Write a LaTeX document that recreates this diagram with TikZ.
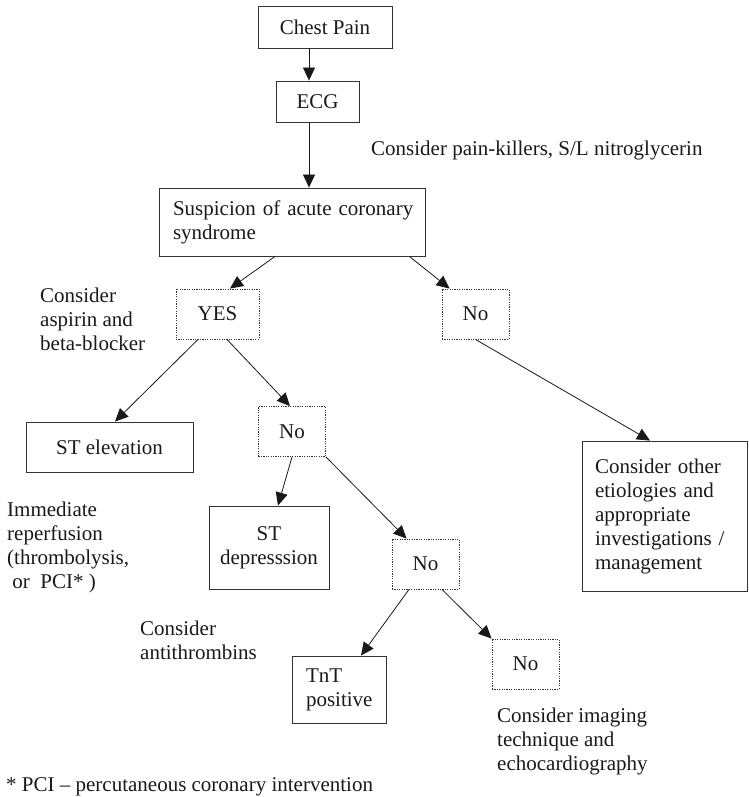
\documentclass[tikz,border=0pt]{standalone}
\usepackage{fontspec}
\setmainfont{Liberation Serif}
\usetikzlibrary{arrows.meta}

\begin{document}
\begin{tikzpicture}[x=1pt, y=-1pt,
	every node/.style={font=\fontsize{21}{24}\selectfont, text=black!90},
	solidbox/.style={draw=black!80, line width=0.9pt, inner sep=0pt},
	dotbox/.style={draw=black!80, line width=0.9pt, dash pattern=on 1.2pt off 1.2pt, inner sep=0pt, minimum width=67pt, minimum height=50pt},
	note/.style={inner sep=0pt, align=left, anchor=west},
	arr/.style={-{Triangle[length=13pt,width=12pt]}, line width=0.8pt, black!90}]
	\useasboundingbox (0,0) rectangle (748,797);
	\node (CP) [solidbox, minimum width=134pt, minimum height=42pt] at (325,27) {Chest Pain};
	\node (ECG) [solidbox, minimum width=83pt, minimum height=41pt] at (317.5,101.5) {ECG};
	\node (ACS) [solidbox, minimum width=266pt, minimum height=68pt, text width=238pt, align=left] at (292,222) {\mbox{Suspicion of acute coronary}\\syndrome};
	\node (YES) [dotbox, minimum width=83pt] at (217.5,314) {YES};
	\node (NoA) [dotbox] at (475.5,314) {No};
	\node (STE) [solidbox, minimum width=167pt, minimum height=50pt] at (109.5,447) {ST elevation};
	\node (NoB) [dotbox] at (292,431.5) {No};
	\node (STD) [solidbox, minimum width=120pt, minimum height=83pt, align=center] at (269,547.5) {ST\\depresssion};
	\node (NoC) [dotbox] at (425.5,564) {No};
	\node (TnT) [solidbox, minimum width=94pt, minimum height=67pt, text width=66pt, align=left] at (339,689.5) {TnT\\positive};
	\node (NoD) [dotbox] at (525.5,664) {No};
	\node (OTH) [solidbox, minimum width=165pt, minimum height=150pt, text width=139pt, align=left] at (664.5,516) {Consider other\\etiologies and\\appropriate\\investigations /\\management};
	\node (painTxt) [note] at (371,150) {Consider pain-killers, S/L nitroglycerin};
	\node (aspTxt) [note] at (40,319) {Consider\\aspirin and\\beta-blocker};
	\node (repTxt) [note] at (7,547.5) {Immediate\\reperfusion\\(thrombolysis,\\\ or\ \ PCI* )};
	\node (antiTxt) [note] at (140,640.5) {Consider\\antithrombins};
	\node (imgTxt) [note] at (497,741) {Consider imaging\\technique and\\echocardiography};
	\node (footTxt) [note] at (6,787) {* PCI -- percutaneous coronary intervention};
	\draw[arr] ([xshift=-16pt]CP.south) -- ([xshift=-8.5pt]ECG.north);
	\draw[arr] ([xshift=-8.5pt]ECG.south) -- ([xshift=17pt]ACS.north);
	\draw[arr] ([xshift=-17pt]ACS.south) -- ([xshift=12.5pt]YES.north);
	\draw[arr] ([xshift=-16pt]ACS.south east) -- ([xshift=8pt]NoA.north west);
	\draw[arr] ([xshift=-19.5pt]YES.south) -- ([xshift=5.5pt]STE.north);
	\draw[arr] ([xshift=9.5pt]YES.south) -- ([xshift=-2pt]NoB.north);
	\draw[arr] (NoA.south) -- ([xshift=-14.5pt]OTH.north);
	\draw[arr] (NoB.south) -- ([xshift=9pt]STD.north);
	\draw[arr] (NoB.south east) -- ([xshift=15pt]NoC.north west);
	\draw[arr] ([xshift=-16.5pt]NoC.south) -- ([xshift=22pt]TnT.north);
	\draw[arr] ([xshift=16.5pt]NoC.south) -- (NoD.north west);
\end{tikzpicture}
\end{document}
